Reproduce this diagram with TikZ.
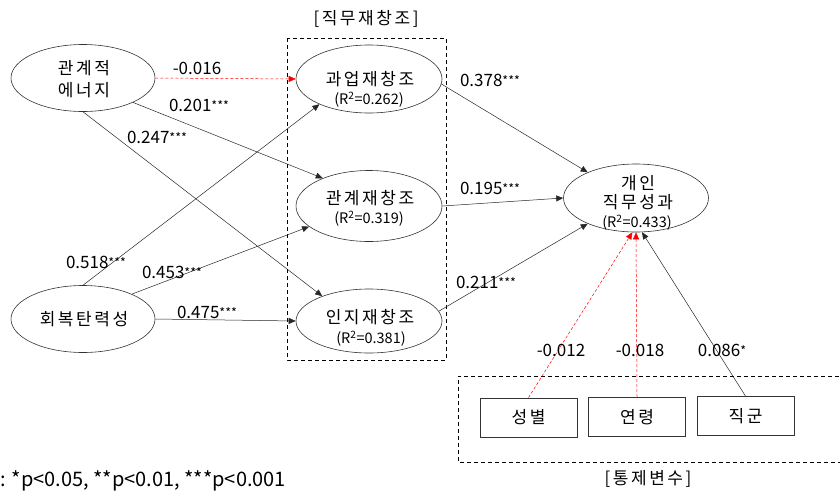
\documentclass[tikz,border=0pt]{standalone}
\usepackage{fontspec}
\setmainfont{Noto Sans CJK KR}
\newfontfamily\kr[LetterSpace=15]{Noto Sans CJK KR}
\usetikzlibrary{arrows.meta,shapes.geometric}
\tikzset{
  oval/.style={ellipse, draw=black!80, line width=0.6pt, minimum width=144pt, minimum height=67pt, inner sep=0pt},
  krlab/.style={font=\kr\fontsize{17}{22}\selectfont, align=center, inner sep=0pt},
  rsq/.style={font=\fontsize{14.5}{15}\selectfont, inner sep=0pt},
  coef/.style={font=\fontsize{17}{17}\selectfont, inner sep=0pt},
  conn/.style={line width=0.5pt, draw=black!85, -{Triangle[length=7pt,width=6pt]}},
  redconn/.style={conn, draw=red, dash pattern=on 3pt off 2pt, -{Triangle[length=7pt,width=6pt,fill=red]}},
  ctrl/.style={draw=black!80, line width=0.8pt, minimum width=97pt, minimum height=39pt, inner sep=0pt, font=\kr\fontsize{17}{17}\selectfont},
  grp/.style={line width=0.9pt, dash pattern=on 4pt off 3pt},
}
\newcommand{\stars}[1]{\raisebox{0.5pt}{\fontsize{12.5}{12}\selectfont #1}}
\begin{document}
\begin{tikzpicture}[x=1pt,y=-1pt]
\useasboundingbox (0,0) rectangle (840,491);
% group boxes
\node[krlab] (gjt) at (366,19) {[직무재창조]};
\draw[grp] (287,38) rectangle (446,360);
\node[krlab] (gct) at (648,479) {[통제변수]};
\draw[grp] (846,376) -- (458,376) -- (458,462) -- (846,462);
% ellipses
\node[oval] (re) at (83,78) {};
\node[krlab] at (84,79) {관계적\\에너지};
\node[oval] (res) at (83,319) {};
\node[krlab] at (84,319) {회복탄력성};
\node[oval, minimum width=146pt, minimum height=68pt] (t) at (369,79) {};
\node[krlab] at (370,79) {과업재창조};
\node[rsq] (r1) at (369,100) {(R\textsuperscript{2}=0.262)};
\node[oval, minimum width=146pt, minimum height=71pt] (rel) at (369,206) {};
\node[krlab] at (370,198) {관계재창조};
\node[rsq] (r2) at (369,219) {(R\textsuperscript{2}=0.319)};
\node[oval, minimum width=146pt, minimum height=64pt] (cog) at (369,321) {};
\node[krlab] at (370,317) {인지재창조};
\node[rsq] (r3) at (371,339) {(R\textsuperscript{2}=0.381)};
\node[oval, minimum width=145pt, minimum height=68pt] (perf) at (636,198) {};
\node[krlab] at (638,183) {개인};
\node[krlab] at (638,202) {직무성과};
\node[rsq] (r4) at (637,223) {(R\textsuperscript{2}=0.433)};
% control boxes
\node[ctrl] (sex) at (528.5,417.5) {성별};
\node[ctrl] (age) at (637,417) {연령};
\node[ctrl] (job) at (745.5,416) {직군};
% connectors
\draw[redconn] (re.east) -- (t.west);
\draw[conn] (re.-26) -- (rel.149);
\draw[conn] (re.-90) -- (cog.152);
\draw[conn] (res.90) -- (t.207);
\draw[conn] (res.27) -- (rel.199);
\draw[conn] (res.east) -- (cog.west);
\draw[conn] (t.-4) -- (perf.152);
\draw[conn] (rel.east) -- (perf.west);
\draw[conn] (cog.8) -- (perf.208);
\draw[redconn] (sex.north) -- (perf.-96);
\draw[redconn] (age.north) -- (perf.-90);
\draw[conn] (job.north) -- (perf.-80);
% coefficients
\node[coef] at (197,68) {-0.016};
\node[coef] at (199,105) {0.201\stars{***}};
\node[coef] at (157,137) {0.247\stars{***}};
\node[coef] at (96,262) {0.518\stars{***}};
\node[coef] at (172,272) {0.453\stars{***}};
\node[coef] at (207,312) {0.475\stars{***}};
\node[coef] at (490,80) {0.378\stars{***}};
\node[coef] at (490,188) {0.195\stars{***}};
\node[coef] at (486,282) {0.211\stars{***}};
\node[coef] at (561,350) {-0.012};
\node[coef] at (640,350) {-0.018};
\node[coef] at (722,350) {0.086\stars{*}};
% footnote
\node[font=\fontsize{20}{20}\selectfont, inner sep=0pt, anchor=base west] (fn) at (0,486) {: *p<0.05, **p<0.01, ***p<0.001};
\end{tikzpicture}
\end{document}
